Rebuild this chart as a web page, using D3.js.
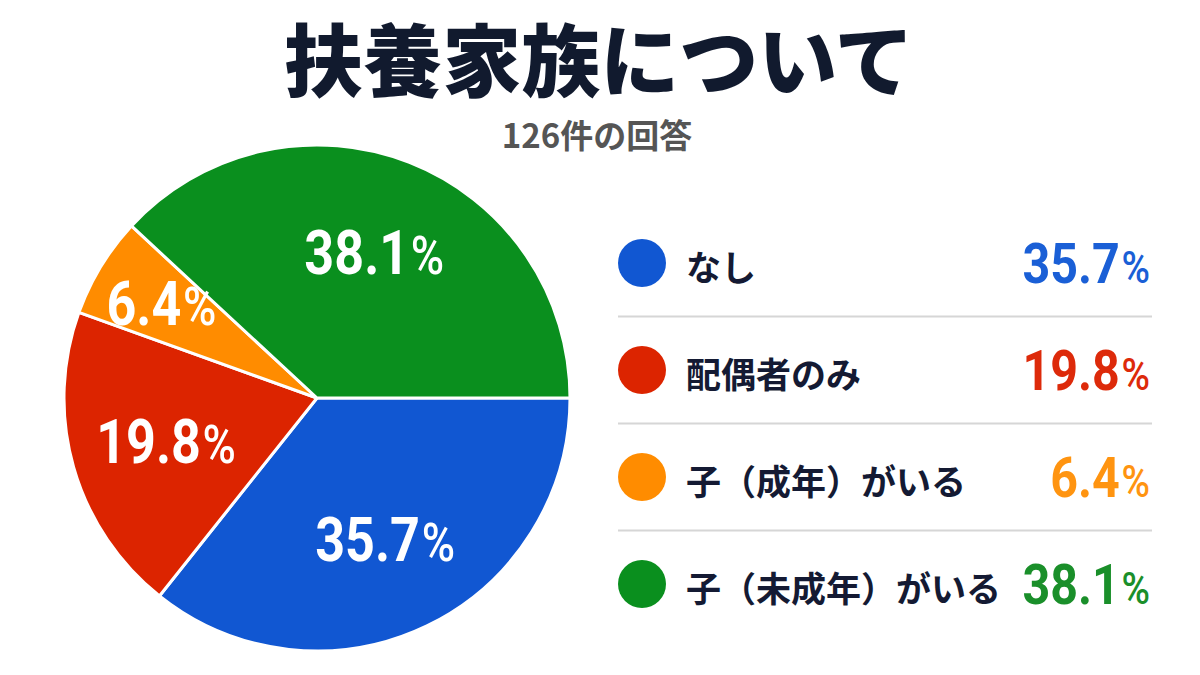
<!DOCTYPE html>
<html>
<head>
<meta charset="utf-8">
<script src="https://cdn.jsdelivr.net/npm/d3@7/dist/d3.min.js"></script>
<style>
  html, body { margin: 0; padding: 0; background: #ffffff; }
  svg { display: block; }
</style>
</head>
<body>
<svg id="chart" width="1200" height="675"></svg>
<script>
// ---- data ----
const categories = ["なし", "配偶者のみ", "子（成年）がいる", "子（未成年）がいる"];
const values = [35.7, 19.8, 6.4, 38.1];
const colors = ["#1157d2", "#dc2400", "#ff8c00", "#0a8f1e"];
const textColors = ["#1a5fd6", "#dd2a0a", "#ff9410", "#1a8f2a"];
const titleText = "扶養家族について";
const subtitleText = "126件の回答";

// ---- layout ----
const svg = d3.select("#chart");
const W = 1200;
const cx = 317, cy = 398, R = 253;
const jp = "'Noto Sans CJK JP', 'Noto Sans', sans-serif";
const num = "Roboto, 'Noto Sans', sans-serif";

svg.append("rect").attr("width", W).attr("height", 675).attr("fill", "#ffffff");

// title
svg.append("text")
  .attr("x", 599).attr("y", 91)
  .attr("text-anchor", "middle")
  .attr("font-family", jp)
  .attr("font-weight", 900)
  .attr("font-size", 79)
  .attr("fill", "#111a2e")
  .text(titleText);

svg.append("text")
  .attr("x", 597).attr("y", 148)
  .attr("text-anchor", "middle")
  .attr("font-family", jp)
  .attr("font-weight", 700)
  .attr("font-size", 33)
  .attr("fill", "#555555")
  .text(subtitleText);

// pie
const data = categories.map((c, i) => ({ name: c, value: values[i], color: colors[i], tcolor: textColors[i] }));
const pie = d3.pie().value(d => d.value).sort(null)
  .startAngle(Math.PI / 2).endAngle(Math.PI / 2 + 2 * Math.PI);
const arcs = pie(data);
const arc = d3.arc().innerRadius(0).outerRadius(R);

const g = svg.append("g").attr("transform", `translate(${cx},${cy})`);
g.selectAll("path.slice").data(arcs).enter().append("path")
  .attr("class", "slice")
  .attr("d", arc)
  .attr("fill", d => d.data.color)
  .attr("stroke", "#ffffff")
  .attr("stroke-width", 3)
  .attr("stroke-linejoin", "round");

function labelPos(d) {
  const frac = d.data.value < 10 ? 0.72 : 0.62;
  const a = (d.startAngle + d.endAngle) / 2;
  const r = R * frac;
  return [Math.sin(a) * r, -Math.cos(a) * r];
}

const lbl = g.selectAll("g.lbl").data(arcs).enter().append("g")
  .attr("class", "lbl")
  .attr("transform", d => { const p = labelPos(d); return `translate(${p[0]},${p[1] + 22}) scale(0.84,1)`; });
const lt = lbl.append("text")
  .attr("text-anchor", "middle")
  .attr("font-family", num)
  .attr("fill", "#ffffff");
lt.append("tspan").attr("font-weight", 700).attr("font-size", 62).text(d => d.data.value.toFixed(1));
lt.append("tspan").attr("font-weight", 500).attr("font-size", 54).attr("dx", 2).text("%");

// legend
const rowY = d3.scaleLinear().domain([0, 1]).range([263, 370]);
const lx0 = 618, lx1 = 1152;
const leg = svg.append("g");

leg.selectAll("line.sep").data(data.slice(0, data.length - 1)).enter().append("line")
  .attr("class", "sep")
  .attr("x1", lx0).attr("x2", lx1)
  .attr("y1", (d, i) => (rowY(i) + rowY(i + 1)) / 2)
  .attr("y2", (d, i) => (rowY(i) + rowY(i + 1)) / 2)
  .attr("stroke", "#d6d6d6")
  .attr("stroke-width", 2);

leg.selectAll("circle.dot").data(data).enter().append("circle")
  .attr("class", "dot")
  .attr("cx", 642).attr("cy", (d, i) => rowY(i))
  .attr("r", 24)
  .attr("fill", d => d.color);

leg.selectAll("text.name").data(data).enter().append("text")
  .attr("class", "name")
  .attr("x", 686).attr("y", (d, i) => rowY(i) + 2)
  .attr("dominant-baseline", "central")
  .attr("font-family", jp)
  .attr("font-weight", 700)
  .attr("font-size", 35)
  .attr("fill", "#141a33")
  .text(d => d.name);

const lv = leg.selectAll("g.val").data(data).enter().append("g")
  .attr("class", "val")
  .attr("transform", (d, i) => `translate(1150,${rowY(i) + 20}) scale(0.88,1)`);
const lvt = lv.append("text")
  .attr("text-anchor", "end")
  .attr("font-family", num)
  .attr("fill", d => d.tcolor);
lvt.append("tspan").attr("font-weight", 700).attr("font-size", 55).text(d => d.value.toFixed(1));
lvt.append("tspan").attr("font-weight", 500).attr("font-size", 44).attr("dx", 2).text("%");
</script>
</body>
</html>
